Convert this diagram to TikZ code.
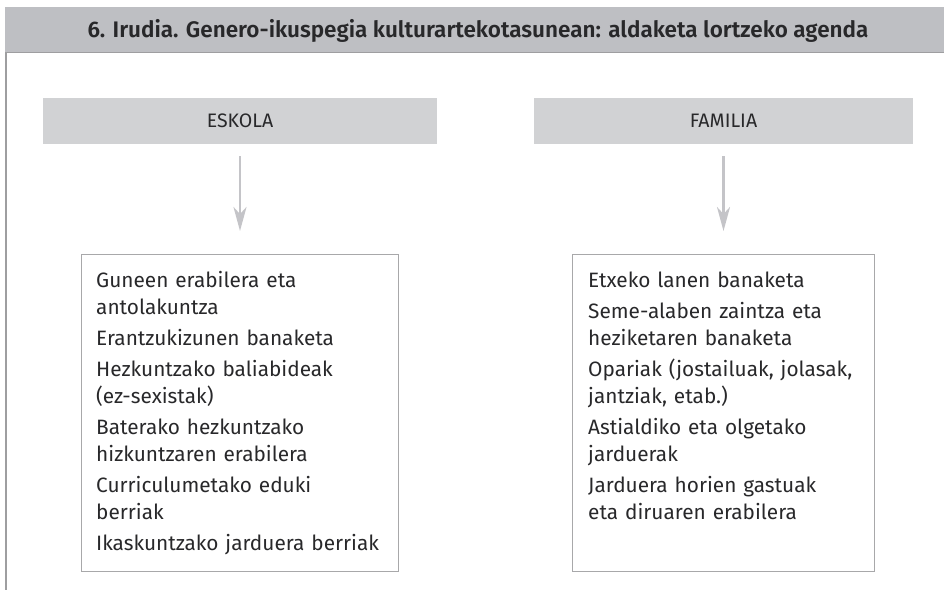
\documentclass[tikz,border=0pt]{standalone}
\usepackage{fontspec}
\setmainfont{Fira Sans}
\newfontfamily\titlefont{Fira Sans SemiBold}
\usetikzlibrary{arrows.meta,positioning}
\definecolor{bargray}{RGB}{190,191,195}
\definecolor{boxgray}{RGB}{209,210,212}
\definecolor{linegray}{RGB}{158,158,160}
\definecolor{framegray}{RGB}{168,168,170}
\definecolor{arrowgray}{RGB}{196,196,200}
\definecolor{inkgray}{RGB}{40,40,42}
\tikzset{
  header/.style={fill=boxgray, minimum height=46pt, inner sep=0pt, text=inkgray,
    font=\fontsize{19.5}{24}\selectfont},
  listbox/.style={draw=framegray, line width=1.2pt, minimum height=317pt, inner sep=0pt},
  listtext/.style={anchor=base west, inner sep=0pt, align=left, text=inkgray,
    font=\fontsize{20.8}{27}\selectfont},
  downarrow/.style={arrowgray, line width=2.6pt, shorten <=12pt, shorten >=23pt,
    -{Stealth[length=24pt, width=13pt, inset=7pt]}}
}
\begin{document}
\begin{tikzpicture}[x=1pt,y=-1pt]
\useasboundingbox (0,0) rectangle (945,594);
\fill[bargray] (5,7) rectangle (944,52);
\draw[linegray, line width=1.6pt] (5,52.5) -- (944,52.5);
\draw[linegray, line width=1.6pt] (5.8,52.5) -- (5.8,590);
\node[anchor=base, inner sep=0pt, text=inkgray, font=\titlefont\fontsize{22.5}{24}\selectfont] (title) at (478,37.3)
  {6. Irudia. Genero-ikuspegia kulturartekotasunean: aldaketa lortzeko agenda};

\node[header, minimum width=394pt] (eskola) at (240,121) {ESKOLA};
\node[header, minimum width=379pt] (familia) at (723.5,121) {FAMILIA};

\node[listbox, minimum width=317pt, anchor=north west] (eskolabox) at (81,254) {};
\node[listbox, minimum width=302pt, anchor=north west] (familiabox) at (572,254) {};

\node[listtext, text width=320pt] (eskolalist) at ([xshift=15pt,yshift=-33pt]eskolabox.north west)
  {Guneen erabilera eta\\ antolakuntza\\[4pt]
   Erantzukizunen banaketa\\[4pt]
   Hezkuntzako baliabideak\\ (ez-sexistak)\\[4pt]
   Baterako hezkuntzako\\ hizkuntzaren erabilera\\[4pt]
   Curriculumetako eduki\\ berriak\\[4pt]
   Ikaskuntzako jarduera berriak};
\node[listtext, text width=320pt] (familialist) at ([xshift=16pt,yshift=-33pt]familiabox.north west)
  {Etxeko lanen banaketa\\[4pt]
   Seme-alaben zaintza eta\\ heziketaren banaketa\\[4pt]
   Opariak (jostailuak, jolasak,\\ jantziak, etab.)\\[4pt]
   Astialdiko eta olgetako\\ jarduerak\\[4pt]
   Jarduera horien gastuak\\ eta diruaren erabilera};

\draw[downarrow] (eskola.south) -- (eskola.south |- eskolabox.north);
\draw[downarrow] (familia.south) -- (familia.south |- familiabox.north);
\end{tikzpicture}
\end{document}
